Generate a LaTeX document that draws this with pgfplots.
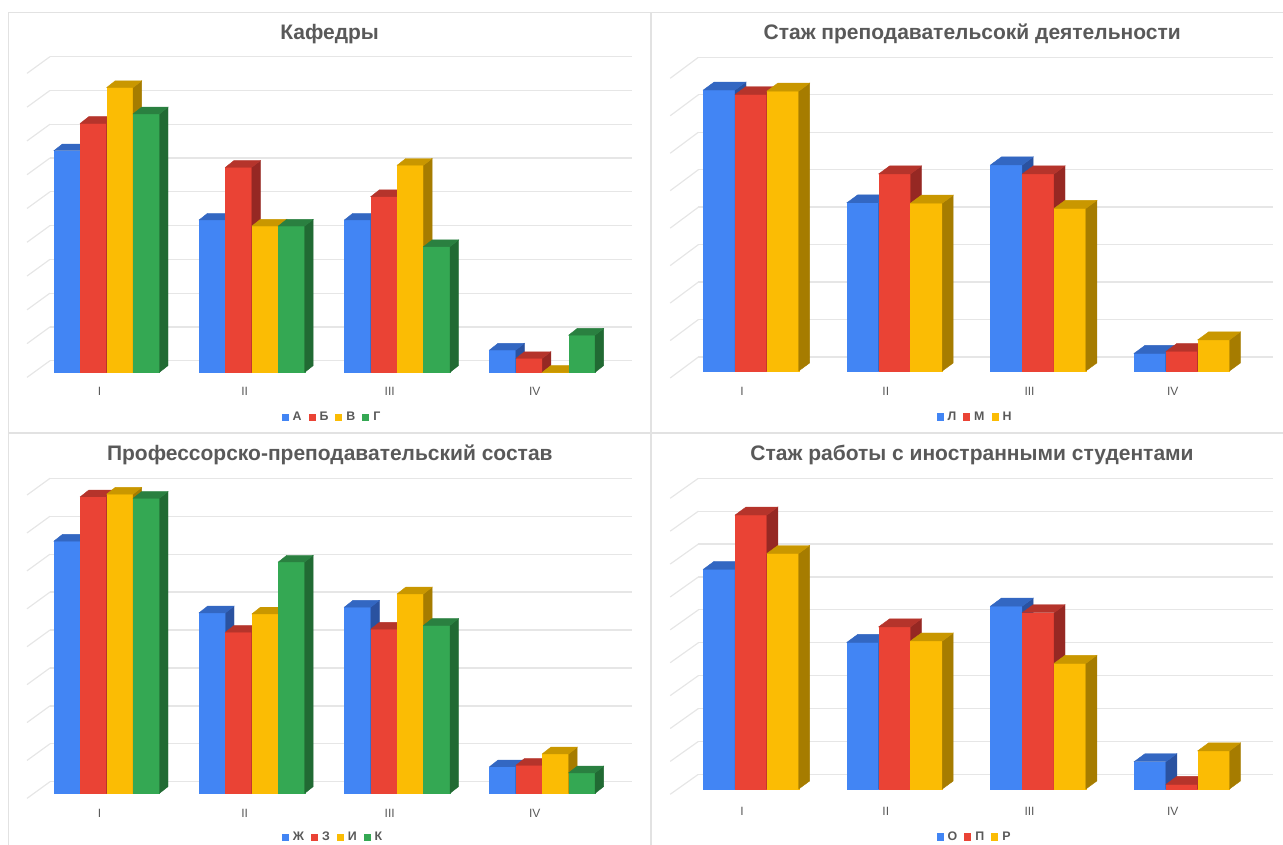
\documentclass[border=0pt]{standalone}
\usepackage{fontspec}
\setmainfont{Liberation Sans}
\usepackage{pgfplots}
\pgfplotsset{compat=1.18}
\usepackage{pgfplotstable}

% Google-style palette: front face, top face, side face
\definecolor{gblue}{HTML}{4285F4}
\definecolor{gbluetop}{HTML}{3367C2}
\definecolor{gblueside}{HTML}{2A52A0}
\definecolor{gred}{HTML}{EA4335}
\definecolor{gredtop}{HTML}{B5342B}
\definecolor{gredside}{HTML}{962823}
\definecolor{gyellow}{HTML}{FBBC04}
\definecolor{gyellowtop}{HTML}{C99700}
\definecolor{gyellowside}{HTML}{A67C00}
\definecolor{ggreen}{HTML}{34A853}
\definecolor{ggreentop}{HTML}{2A8040}
\definecolor{ggreenside}{HTML}{216A33}
\definecolor{gridgray}{HTML}{E6E6E6}
\definecolor{framegray}{HTML}{E2E2E2}
\definecolor{textgray}{HTML}{595959}

% xc = centre of the bar group (pt), one column per series
\pgfplotstableread{
xc     A     B     C     D
106.7  6.56  7.37  8.43  7.65
251.9  4.51  6.07  4.33  4.33
397.2  4.51  5.20  6.13  3.72
542.3  0.66  0.41  0.00  1.10
}\kafedry

\pgfplotstableread{
xc      L     M     N
751.0   7.50  7.38  7.47
894.6   4.49  5.26  4.48
1038.2  5.50  5.26  4.34
1181.8  0.47  0.52  0.83
}\stazh

\pgfplotstableread{
xc     Zh    Z     I     K
106.7  6.65  7.82  7.89  7.78
251.9  4.76  4.25  4.73  6.10
397.2  4.91  4.33  5.26  4.43
542.3  0.70  0.74  1.04  0.54
}\pps

\pgfplotstableread{
xc      O     P     R
751.0   6.68  8.33  7.16
894.6   4.46  4.93  4.50
1038.2  5.56  5.36  3.82
1181.8  0.83  0.14  1.16
}\inostr

\pgfdeclareplotmark{bar3d}{}

\pgfplotsset{
  panel/.style={
    x=1pt, anchor=south west, clip=false, enlargelimits=false,
    axis x line*=bottom, axis y line*=left,
    axis line style={draw=none},
    major tick length=0pt,
    ymajorgrids, grid style={draw=gridgray, line width=1.3pt},
    yticklabel style={opacity=0},
    xticklabel style={anchor=center, inner sep=0pt, text=textgray,
      font=\fontsize{12}{14}\selectfont},
    legend columns=-1,
    legend style={draw=none, fill=none, anchor=center, inner sep=0pt,
      font=\bfseries\fontsize{12.4}{14}\selectfont, text=textgray,
      nodes={inner sep=0pt},
      /tikz/every even column/.append style={column sep=7pt}},
  },
  % a 3-D bar (front, side and top faces) drawn at the top front edge of
  % each data point; the bar value comes back through the point meta,
  % mapped onto [0,10]
  bar3d/.style n args={3}{only marks, scatter, mark=bar3d,
    point meta=y, point meta min=0, point meta max=10,
    scatter/@pre marker code/.code={%
      \pgfmathsetmacro\barval{\pgfplotspointmetatransformed/100}%
      \pgfmathsetmacro\hw{0.5*\bw}%
      \pgfmathsetmacro\hx{\hw+\ddx}%
      \pgfmathsetmacro\lx{\ddx-\hw}%
      \pgfmathsetmacro\hh{-\barval*\uu}%
      \pgfmathsetmacro\hb{\ddy-\barval*\uu}%
      \filldraw[fill=#1, draw=#1, line width=0.4pt] (-\hw pt,0pt) rectangle (\hw pt,\hh pt);
      \fill[#3] (\hw pt,0pt) -- (\hx pt,\ddy pt) -- (\hx pt,\hb pt) -- (\hw pt,\hh pt) -- cycle;
      \fill[#2] (-\hw pt,0pt) -- (\hw pt,0pt) -- (\hx pt,\ddy pt) -- (\lx pt,\ddy pt) -- cycle;
    },
    scatter/@post marker code/.code={},
    legend image code/.code={\fill[#1] (0pt,-3.2pt) rectangle (6pt,3.2pt);
      \path (10.6pt,0pt);}},
}

\begin{document}
\begin{tikzpicture}
\path[use as bounding box] (0pt,0pt) rectangle (1283pt,845pt);

% panel frames
\draw[framegray, line width=1.5pt] (8.3pt,0pt) -- (8.3pt,832.7pt) -- (1283pt,832.7pt);
\draw[framegray, line width=2pt] (650.7pt,0pt) -- (650.7pt,832.7pt);
\draw[framegray, line width=2pt] (8.3pt,412.3pt) -- (1283pt,412.3pt);

% receding grid lines on the side walls
\foreach \k in {0,...,9} {
  \pgfmathsetmacro\gy{484.3+33.78*\k}\pgfmathsetmacro\gl{\gy-16.7}
  \draw[gridgray, line width=1.2pt] (27pt,\gl pt) -- (50pt,\gy pt);
  \pgfmathsetmacro\gy{70.7+32.89*\k}\pgfmathsetmacro\gl{\gy-20}
  \draw[gridgray, line width=1.2pt] (670.2pt,\gl pt) -- (698.4pt,\gy pt);
}
\foreach \k in {0,...,8} {
  \pgfmathsetmacro\gy{488+37.46*\k}\pgfmathsetmacro\gl{\gy-21}
  \draw[gridgray, line width=1.2pt] (670.2pt,\gl pt) -- (698.4pt,\gy pt);
  \pgfmathsetmacro\gy{63.3+37.92*\k}\pgfmathsetmacro\gl{\gy-16.7}
  \draw[gridgray, line width=1.2pt] (27pt,\gl pt) -- (50pt,\gy pt);
}

% titles
\begin{scope}[every node/.style={anchor=base, text=textgray,
    font=\bfseries\fontsize{21}{24}\selectfont}]
\node at (329.6pt,805.2pt) {Кафедры};
\node at (972.2pt,805.2pt) {Стаж преподавательсокй деятельности};
\node at (329.8pt,384.3pt) {Профессорско-преподавательский состав};
\node at (972pt,384.5pt) {Стаж работы с иностранными студентами};
\end{scope}

% ---- Кафедры ----
\def\bw{26.4}\def\ddx{8.5}\def\ddy{6.7}\def\uu{33.78}
\begin{axis}[panel, at={(50pt,453.3pt)}, y=33.78pt,
  xmin=50, xmax=631.5, ymin=-0.574, ymax=9.45,
  ytick={0.343,1.343,2.343,3.343,4.343,5.343,6.343,7.343,8.343,9.343},
  xtick={99.5,244.6,389.7,534.8}, xticklabels={I,II,III,IV},
  legend style={at={(0.4832,-0.0756)}}]
\addplot[bar3d={gblue}{gbluetop}{gblueside}] table[x expr=\thisrow{xc}-1.5*\bw, y=A]{\kafedry};
\addlegendentry{А}
\addplot[bar3d={gred}{gredtop}{gredside}] table[x expr=\thisrow{xc}-0.5*\bw, y=B]{\kafedry};
\addlegendentry{Б}
\addplot[bar3d={gyellow}{gyellowtop}{gyellowside}] table[x expr=\thisrow{xc}+0.5*\bw, y=C]{\kafedry};
\addlegendentry{В}
\addplot[bar3d={ggreen}{ggreentop}{ggreenside}] table[x expr=\thisrow{xc}+1.5*\bw, y=D]{\kafedry};
\addlegendentry{Г}
\end{axis}

% ---- Стаж преподавательской деятельности ----
\def\bw{31.8}\def\ddx{10.9}\def\ddy{8}\def\uu{37.46}
\begin{axis}[panel, at={(698.4pt,453.3pt)}, y=37.46pt,
  xmin=698.4, xmax=1272.7, ymin=-0.553, ymax=8.45,
  ytick={0.374,1.374,2.374,3.374,4.374,5.374,6.374,7.374,8.374},
  xtick={742,885.8,1029.5,1172.8}, xticklabels={I,II,III,IV},
  legend style={at={(0.4799,-0.0741)}}]
\addplot[bar3d={gblue}{gbluetop}{gblueside}] table[x expr=\thisrow{xc}-\bw, y=L]{\stazh};
\addlegendentry{Л}
\addplot[bar3d={gred}{gredtop}{gredside}] table[x=xc, y=M]{\stazh};
\addlegendentry{М}
\addplot[bar3d={gyellow}{gyellowtop}{gyellowside}] table[x expr=\thisrow{xc}+\bw, y=N]{\stazh};
\addlegendentry{Н}
\end{axis}

% ---- Профессорско-преподавательский состав ----
\def\bw{26.4}\def\ddx{8.5}\def\ddy{6.7}\def\uu{37.92}
\begin{axis}[panel, at={(50pt,31.7pt)}, y=37.92pt,
  xmin=50, xmax=631.5, ymin=-0.527, ymax=8.4,
  ytick={0.306,1.306,2.306,3.306,4.306,5.306,6.306,7.306,8.306},
  xtick={99.5,244.6,389.7,534.8}, xticklabels={I,II,III,IV},
  legend style={at={(0.485,-0.0709)}}]
\addplot[bar3d={gblue}{gbluetop}{gblueside}] table[x expr=\thisrow{xc}-1.5*\bw, y=Zh]{\pps};
\addlegendentry{Ж}
\addplot[bar3d={gred}{gredtop}{gredside}] table[x expr=\thisrow{xc}-0.5*\bw, y=Z]{\pps};
\addlegendentry{З}
\addplot[bar3d={gyellow}{gyellowtop}{gyellowside}] table[x expr=\thisrow{xc}+0.5*\bw, y=I]{\pps};
\addlegendentry{И}
\addplot[bar3d={ggreen}{ggreentop}{ggreenside}] table[x expr=\thisrow{xc}+1.5*\bw, y=K]{\pps};
\addlegendentry{К}
\end{axis}

% ---- Стаж работы с иностранными студентами ----
\def\bw{31.8}\def\ddx{10.9}\def\ddy{8}\def\uu{32.89}
\begin{axis}[panel, at={(698.4pt,33.3pt)}, y=32.89pt,
  xmin=698.4, xmax=1272.7, ymin=-0.690, ymax=9.55,
  ytick={0.447,1.447,2.447,3.447,4.447,5.447,6.447,7.447,8.447,9.447},
  xtick={742,885.8,1029.5,1172.8}, xticklabels={I,II,III,IV},
  legend style={at={(0.4792,-0.0742)}}]
\addplot[bar3d={gblue}{gbluetop}{gblueside}] table[x expr=\thisrow{xc}-\bw, y=O]{\inostr};
\addlegendentry{О}
\addplot[bar3d={gred}{gredtop}{gredside}] table[x=xc, y=P]{\inostr};
\addlegendentry{П}
\addplot[bar3d={gyellow}{gyellowtop}{gyellowside}] table[x expr=\thisrow{xc}+\bw, y=R]{\inostr};
\addlegendentry{Р}
\end{axis}
\end{tikzpicture}
\end{document}
